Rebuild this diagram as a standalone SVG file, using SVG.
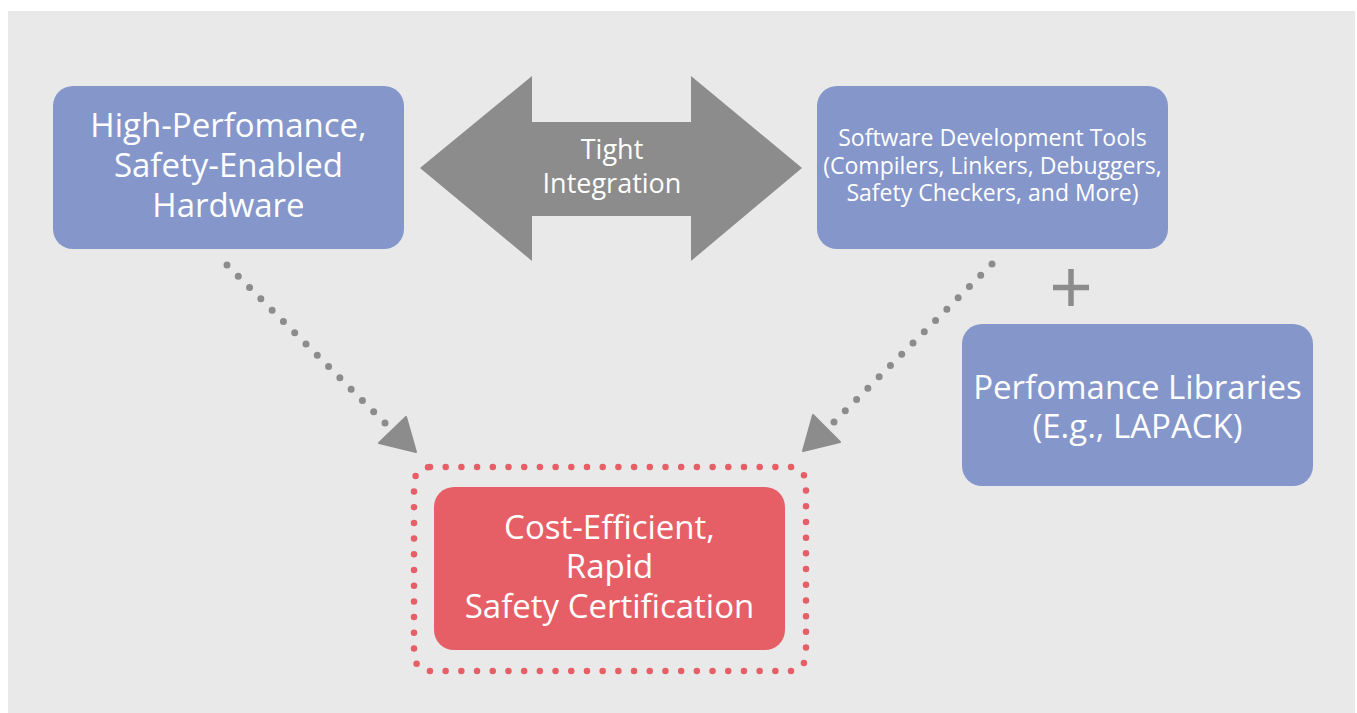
<svg xmlns="http://www.w3.org/2000/svg" width="1357" height="713" viewBox="0 0 1357 713">
<style>
.blue{fill:#8596cb}
.red{fill:#e65f67}
.t{font-family:"Open Sans","Noto Sans","Liberation Sans",sans-serif;fill:#ffffff;text-anchor:middle}
.big{font-size:33px}
.mid{font-size:27px}
.sm{font-size:23px}
.dots{fill:none;stroke:#8c8c8c;stroke-width:7;stroke-linecap:round}
.head{fill:#8c8c8c;stroke:#8c8c8c;stroke-width:2;stroke-linejoin:round}
</style>
<rect x="0" y="0" width="1357" height="713" fill="#ffffff"/>
<rect x="8" y="11" width="1347" height="702" fill="#e9e9e9"/>
<g id="connectors">
<g id="integration-arrow">
<polygon points="420,168 532,76 532,122 691,122 691,76 802,168 691,261 691,216 532,216 532,261" fill="#8c8c8c"/>
<text class="t mid" x="612" y="159">Tight</text>
<text class="t mid" x="612" y="193">Integration</text>
</g>
<line class="dots" x1="227" y1="265" x2="385" y2="423" stroke-dasharray="0 15.96"/>
<polygon class="head" points="406,417 379,443 416,452"/>
<line class="dots" x1="992" y1="264" x2="834" y2="422" stroke-dasharray="0 15.96"/>
<polygon class="head" points="813,415 840,442 803,451"/>
<g id="plus" stroke="#8c8c8c" stroke-width="5.5">
<line x1="1053" y1="287.5" x2="1089" y2="287.5"/>
<line x1="1071" y1="269" x2="1071" y2="306"/>
</g>
</g>
<g id="hardware">
<rect class="blue" x="53" y="86" width="351" height="163" rx="20"/>
<text class="t big" x="228.5" y="137">High-Perfomance,</text>
<text class="t big" x="228.5" y="177">Safety-Enabled</text>
<text class="t big" x="228.5" y="217">Hardware</text>
</g>
<g id="software">
<rect class="blue" x="817" y="86" width="351" height="163" rx="20"/>
<text class="t sm" x="992.5" y="146">Software Development Tools</text>
<text class="t sm" x="992.5" y="174">(Compilers, Linkers, Debuggers,</text>
<text class="t sm" x="992.5" y="201">Safety Checkers, and More)</text>
</g>
<g id="libraries">
<rect class="blue" x="962" y="324" width="351" height="162" rx="20"/>
<text class="t big" x="1137.5" y="399">Perfomance Libraries</text>
<text class="t big" x="1137.5" y="438">(E.g., LAPACK)</text>
</g>
<g id="certification">
<rect x="414" y="467" width="392" height="204" rx="16" fill="none" stroke="#e65f67" stroke-width="6.5" stroke-linecap="round" stroke-dasharray="0 15.7"/>
<rect class="red" x="434" y="487" width="351" height="163" rx="20"/>
<text class="t big" x="609.5" y="539">Cost-Efficient,</text>
<text class="t big" x="609.5" y="578">Rapid</text>
<text class="t big" x="609.5" y="618">Safety Certification</text>
</g>
</svg>
